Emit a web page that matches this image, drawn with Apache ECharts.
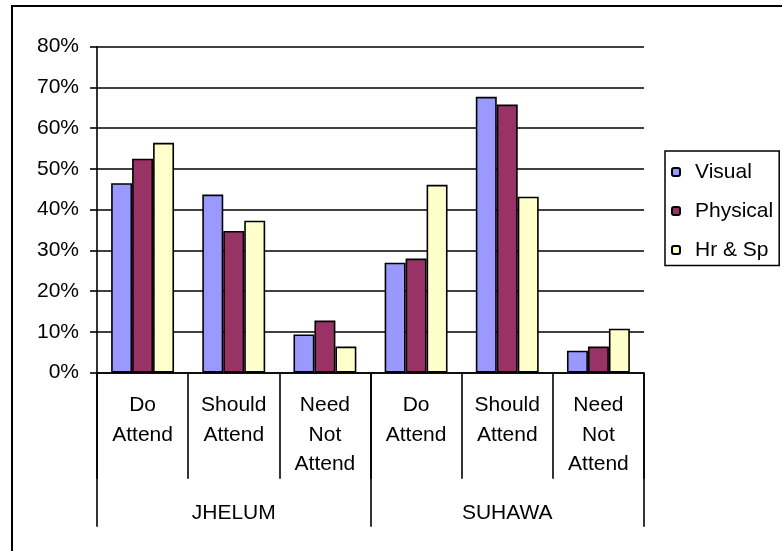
<!DOCTYPE html>
<html>
<head>
<meta charset="utf-8">
<script src="https://cdn.jsdelivr.net/npm/echarts@6/dist/echarts.min.js"></script>
<style>
  html, body { margin: 0; padding: 0; background: #fff; }
  #chart { width: 782px; height: 551px; }
</style>
</head>
<body>
<div id="chart"></div>
<script>
const categories = ["Do\nAttend", "Should\nAttend", "Need\nNot\nAttend", "Do\nAttend", "Should\nAttend", "Need\nNot\nAttend"];
const groups = ["JHELUM", "SUHAWA"];
const visual = [46.5, 43.7, 9.4, 27.0, 67.7, 5.4];
const physical = [52.5, 34.8, 12.8, 28.0, 65.8, 6.4];
const hrSp = [56.4, 37.3, 6.4, 46.1, 43.2, 10.8];

const font = "Liberation Sans, Arial, sans-serif";
const black = "#000";

const chart = echarts.init(document.getElementById("chart"));

const bar = (name, data, color) => ({
  name: name,
  type: "bar",
  data: data,
  barGap: "0%",
  barCategoryGap: "31%",
  itemStyle: { color: color, borderColor: black, borderWidth: 1.6 },
});

const option = {
  animation: false,
  backgroundColor: "#fff",
  graphic: [
    {
      type: "rect",
      shape: { x: 12, y: 6, width: 800, height: 600 },
      style: { fill: "none", stroke: black, lineWidth: 2 },
    },
  ],
  legend: {
    orient: "vertical",
    left: 665,
    top: 151,
    padding: [10.5, 6, 5, 6],
    itemWidth: 8,
    itemHeight: 8,
    itemGap: 18,
    borderColor: black,
    borderWidth: 1.5,
    textStyle: { fontFamily: font, fontSize: 21, color: black, lineHeight: 21, padding: [0, 0, 0, 10] },
    data: ["Visual", "Physical", "Hr & Sp"],
  },
  grid: { left: 97, right: 138, top: 46.7, bottom: 178.3 },
  xAxis: [
    {
      type: "category",
      position: "bottom",
      data: categories,
      axisLine: { show: true, lineStyle: { color: black, width: 1.6 } },
      axisTick: { show: true, interval: 0, length: 106, lineStyle: { color: black, width: 1.6 } },
      axisLabel: {
        interval: 0, margin: 18, color: black, fontFamily: font, fontSize: 21, lineHeight: 29.5,
      },
    },
    {
      type: "category",
      position: "bottom",
      data: groups,
      axisLine: { show: false },
      axisTick: { show: true, interval: 0, length: 154, lineStyle: { color: black, width: 1.6 } },
      axisLabel: { margin: 130, color: black, fontFamily: font, fontSize: 21, lineHeight: 21 },
    },
  ],
  yAxis: {
    type: "value",
    min: 0,
    max: 80,
    interval: 10,
    axisLine: { show: true, lineStyle: { color: black, width: 1.6 } },
    axisTick: { show: true, length: 7, lineStyle: { color: black, width: 1.6 } },
    axisLabel: { formatter: "{value}%", margin: 18, color: black, fontFamily: font, fontSize: 21 },
    splitLine: { lineStyle: { color: black, width: 1.6 } },
  },
  series: [
    bar("Visual", visual, "#9999FF"),
    bar("Physical", physical, "#993366"),
    bar("Hr & Sp", hrSp, "#FFFFCC"),
  ],
};

chart.setOption(option);
</script>
</body>
</html>
